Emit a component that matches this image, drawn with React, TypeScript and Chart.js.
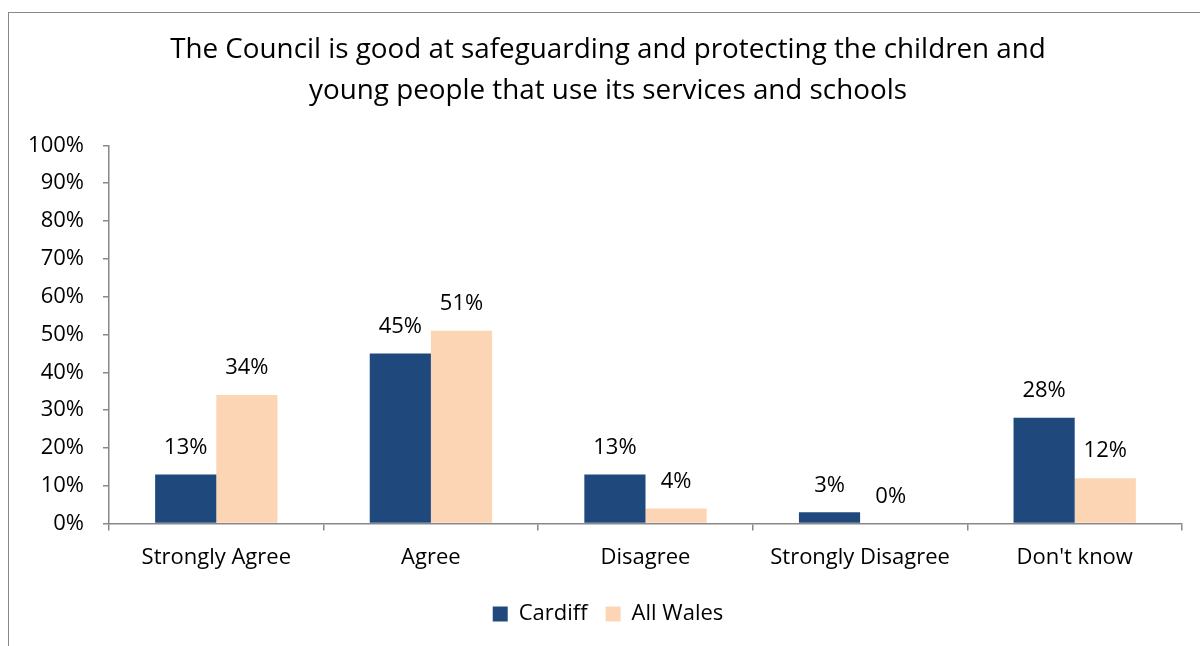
import React, { useEffect, useRef } from "react";
import { Chart, registerables } from "chart.js";

Chart.register(...registerables);

const categories = ["Strongly Agree", "Agree", "Disagree", "Strongly Disagree", "Don't know"];
const cardiff = [13, 45, 13, 3, 28];
const allWales = [34, 51, 4, 0, 12];
const titleLines = [
  "The Council is good at safeguarding and protecting the children and",
  "young people that use its services and schools",
];

const FONT = "'Open Sans', sans-serif";

const dataLabels = {
  id: "dataLabels",
  afterDatasetsDraw(chart: any) {
    const ctx = chart.ctx;
    ctx.save();
    ctx.font = `22px ${FONT}`;
    ctx.fillStyle = "#000";
    ctx.textAlign = "center";
    ctx.textBaseline = "middle";
    chart.data.datasets.forEach((ds: any, i: number) => {
      const meta = chart.getDatasetMeta(i);
      meta.data.forEach((bar: any, j: number) => {
        ctx.fillText(`${ds.data[j]}%`, bar.x, bar.y - 27);
      });
    });
    ctx.restore();
  },
};

export default function App() {
  const ref = useRef<HTMLCanvasElement>(null);
  useEffect(() => {
    const chart = new Chart(ref.current!, {
      type: "bar",
      data: {
        labels: categories,
        datasets: [
          { label: "Cardiff", data: cardiff, backgroundColor: "#1F497D", categoryPercentage: 0.57, barPercentage: 1 },
          { label: "All Wales", data: allWales, backgroundColor: "#FCD5B5", categoryPercentage: 0.57, barPercentage: 1 },
        ],
      },
      options: {
        responsive: false,
        animation: false,
        layout: { padding: { left: 0, right: 0, top: 0, bottom: 12 } },
        plugins: {
          title: {
            display: true,
            text: titleLines,
            color: "#000",
            font: { family: FONT, size: 27.8, weight: "normal", lineHeight: 1.5 },
            padding: { top: 16, bottom: 33 },
          },
          legend: {
            position: "bottom",
            labels: {
              color: "#000",
              font: { family: FONT, size: 22 },
              boxWidth: 15,
              boxHeight: 15,
              padding: 18,
            },
          },
          tooltip: { enabled: false },
        },
        scales: {
          x: {
            offset: true,
            grid: { display: true, offset: true, drawOnChartArea: false, drawTicks: true, tickLength: 7, color: "#888", lineWidth: 1.5 },
            border: { display: true, color: "#888", width: 1.5 },
            ticks: { color: "#000", font: { family: FONT, size: 22 }, padding: 14, maxRotation: 0 },
          },
          y: {
            min: 0,
            max: 100,
            afterFit: (s: any) => { s.width = 100; },
            grid: { drawOnChartArea: false, drawTicks: true, tickLength: 6, color: "#888", lineWidth: 1.5 },
            border: { display: true, color: "#888", width: 1.5 },
            ticks: { stepSize: 10, color: "#000", font: { family: FONT, size: 22 }, padding: 19, callback: (v: any) => `${v}%` },
          },
          spacer: {
            position: "right",
            display: true,
            grid: { display: false },
            border: { display: false },
            ticks: { display: false },
            afterFit: (s: any) => { s.width = 25; },
          },
        },
      },
      plugins: [dataLabels],
    });
    return () => chart.destroy();
  }, []);
  return (
    <div style={{ position: "absolute", left: 8, top: 12, width: 1198, height: 640, border: "1.5px solid #888", background: "#fff" }}>
      <canvas ref={ref} width={1198} height={634} style={{ display: "block" }} />
    </div>
  );
}
